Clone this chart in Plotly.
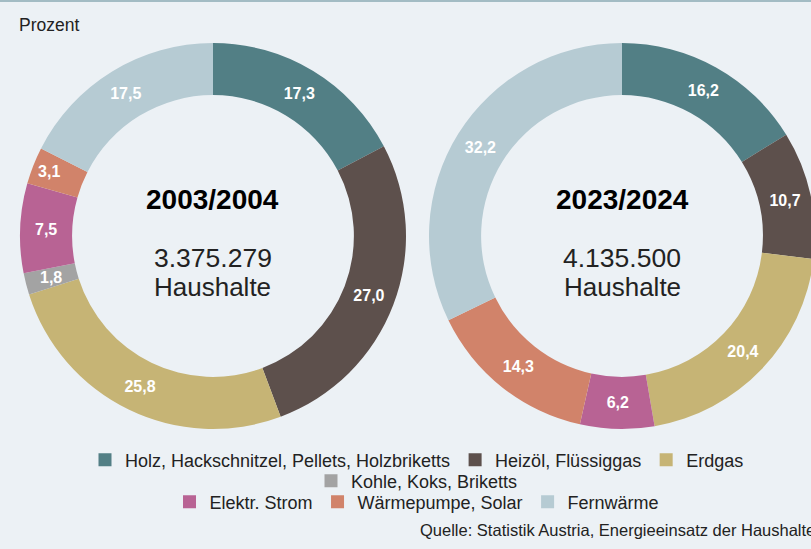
import math
import plotly.graph_objects as go

W, H = 817, 549  # figure slightly wider than the 811px window so the right ring is clipped like the original

categories = ["Holz, Hackschnitzel, Pellets, Holzbriketts", "Heizöl, Flüssiggas", "Erdgas",
              "Kohle, Koks, Briketts", "Elektr. Strom", "Wärmepumpe, Solar", "Fernwärme"]
colors = ["#527f85", "#5d504c", "#c6b475", "#a3a3a3", "#b86394", "#d1836a", "#b6cbd3"]
values_2003 = [17.3, 27.0, 25.8, 1.8, 7.5, 3.1, 17.5]
values_2023 = [16.2, 10.7, 20.4, 0.0, 6.2, 14.3, 32.2]
periods = ["2003/2004", "2023/2024"]
households = ["3.375.279", "4.135.500"]
legend_rows = [[0, 1, 2], [3], [4, 5, 6]]

FONT = "Liberation Sans"
BG = "#ecf1f5"
HOLE = 0.73
SMALL = 3.0  # slices below this share get their label as an annotation (plotly would shrink it)


def fmt(v):
    return f"{v:.1f}".replace(".", ",")


def px_x(p):
    return p / W


def px_y(p):
    return 1 - p / H


# pie boxes in pixels (left, right, top, bottom)
boxes = [(20, 406, 43, 429), (429, 815, 43, 429)]

fig = go.Figure()
annotations = []
for vals, box in zip([values_2003, values_2023], boxes):
    l, r, t, b = box
    texts = [fmt(v) if v >= SMALL else "" for v in vals]
    fig.add_trace(go.Pie(
        labels=categories, values=vals, text=texts,
        textinfo="text", textposition="inside", insidetextorientation="horizontal",
        textfont=dict(family=FONT, size=16, color="white", weight="bold"),
        marker=dict(colors=colors, line=dict(width=0)),
        hole=HOLE, sort=False, direction="clockwise", rotation=0,
        domain=dict(x=[px_x(l), px_x(r)], y=[px_y(b), px_y(t)]),
        showlegend=False, hoverinfo="label+value",
    ))
    # labels for very small slices, placed at the slice's mid angle on the ring's mid radius
    cx, cy = (l + r) / 2, (t + b) / 2
    R = min(r - l, b - t) / 2
    rm = R * (1 + HOLE) / 2
    total = sum(vals)
    cum = 0.0
    for v in vals:
        if 0 < v < SMALL:
            ang = 2 * math.pi * (cum + v / 2) / total
            x = cx + rm * math.sin(ang)
            y = cy - rm * math.cos(ang)
            annotations.append(dict(text=f"<b>{fmt(v)}</b>", x=px_x(x), y=px_y(y), xref="paper",
                                    yref="paper", showarrow=False, xanchor="center", yanchor="middle",
                                    font=dict(family=FONT, size=16, color="white")))
        cum += v

legend_names = ["legend", "legend2", "legend3"]
for li, row in enumerate(legend_rows):
    for i in row:
        fig.add_trace(go.Scatter(
            x=[None], y=[None], mode="markers", name=categories[i],
            marker=dict(symbol="square", size=13, color=colors[i]),
            legend=legend_names[li], showlegend=True, hoverinfo="skip",
        ))

for period, hh, box in zip(periods, households, boxes):
    cx = px_x((box[0] + box[1]) / 2)
    annotations.append(dict(text=f"<b>{period}</b>", x=cx, y=px_y(199), xref="paper", yref="paper",
                            showarrow=False, xanchor="center", yanchor="middle",
                            font=dict(family=FONT, size=28, color="#000000")))
    annotations.append(dict(text=hh, x=cx, y=px_y(258), xref="paper", yref="paper",
                            showarrow=False, xanchor="center", yanchor="middle",
                            font=dict(family=FONT, size=26.5, color="#222222")))
    annotations.append(dict(text="Haushalte", x=cx, y=px_y(287), xref="paper", yref="paper",
                            showarrow=False, xanchor="center", yanchor="middle",
                            font=dict(family=FONT, size=26, color="#222222")))

annotations.append(dict(text="Prozent", x=px_x(17), y=px_y(25), xref="paper", yref="paper",
                        showarrow=False, xanchor="left", yanchor="middle",
                        font=dict(family=FONT, size=17.5, color="#222222")))
annotations.append(dict(text="Quelle: Statistik Austria, Energieeinsatz der Haushalte",
                        x=px_x(418), y=px_y(530), xref="paper", yref="paper",
                        showarrow=False, xanchor="left", yanchor="middle",
                        font=dict(family=FONT, size=16.5, color="#222222")))

row_y = [460, 481, 502]
legend_common = dict(orientation="h", xanchor="center", yanchor="middle", x=px_x(417),
                     bgcolor="rgba(0,0,0,0)", font=dict(family=FONT, size=18, color="#222222"),
                     itemclick=False, itemdoubleclick=False)

fig.update_layout(
    width=W, height=H,
    margin=dict(l=0, r=0, t=0, b=0),
    paper_bgcolor=BG, plot_bgcolor=BG,
    xaxis=dict(visible=False), yaxis=dict(visible=False),
    annotations=annotations,
    shapes=[dict(type="line", xref="paper", yref="paper", x0=0, x1=1, y0=1, y1=1,
                 line=dict(color="#a3bcc4", width=4))],
    legend=dict(y=px_y(row_y[0]), **legend_common),
    legend2=dict(y=px_y(row_y[1]), **legend_common),
    legend3=dict(y=px_y(row_y[2]), **legend_common),
)

fig.write_html(
    "out.html",
    config={"displayModeBar": False},
    post_script="document.body.style.margin='0px';document.body.style.overflow='hidden';"
                "document.body.style.background='" + BG + "';",
)
